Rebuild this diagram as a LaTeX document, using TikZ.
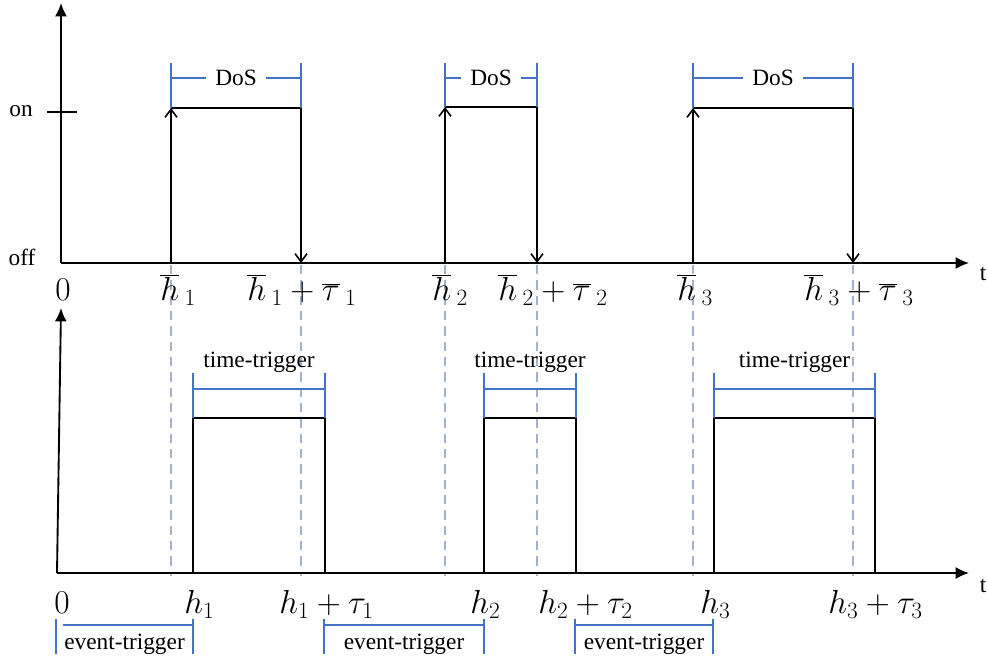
\RequirePackage{fix-cm}
\documentclass[tikz,border=0pt]{standalone}
\usepackage{fontspec}
\setmainfont{Liberation Serif}
\usetikzlibrary{arrows.meta}
\definecolor{bracketblue}{HTML}{4472C4}
\definecolor{dashgray}{HTML}{A3B3CC}
\newcommand{\hb}{\overline{h}}
\newcommand{\tb}{\overline{\tau}}
\begin{document}
\begin{tikzpicture}[x=0.75pt,y=-0.75pt,
  axis/.style={line width=1.4pt,-{Latex[length=10pt,width=9pt]}},
  sig/.style={line width=1.4pt},
  sigarrow/.style={line width=1.4pt,-{Straight Barb[length=6pt,width=9pt,line width=1.2pt]}},
  brk/.style={bracketblue,line width=1.4pt},
  guide/.style={dashgray,line width=1.2pt,dash pattern=on 7pt off 4.5pt},
  txt/.style={font=\fontsize{17.5}{20}\selectfont,inner sep=0pt},
  gaptxt/.style={txt,inner xsep=7pt},
  mlabel/.style={font=\fontsize{25}{29}\selectfont,inner sep=0pt,anchor=base west},
]
\useasboundingbox (0,0) rectangle (987,664);

% dashed guide lines
\foreach \x [count=\i] in {171,301,445,537,693,853}{
  \coordinate (g\i t) at (\x,265);
  \coordinate (g\i b) at (\x,576);
  \draw[guide] (g\i t) -- (g\i b);
}

% top axes
\coordinate (O1) at (61,263);
\coordinate (Y1) at (61,3);
\coordinate (X1) at (969,263);
\draw[axis] (O1) -- (Y1);
\draw[axis] (O1) -- (X1);
\coordinate (tickL) at (47,112);
\coordinate (tickR) at (77,112);
\draw[sig] (tickL) -- (tickR);
\node[txt] (on) at (21,111) {on};
\node[txt] (off) at (22,257) {off};
\node[txt] (t1) at (983,274) {t};

% bottom axes
\coordinate (O2) at (57,573);
\coordinate (Y2) at (61,308);
\coordinate (X2) at (969,573);
\draw[axis] (O2) -- (Y2);
\draw[axis] (O2) -- (X2);
\node[txt] (t2) at (983,586) {t};

% DoS pulses
\foreach \a/\b/\t [count=\i] in {171/301/108, 445/537/107, 693/853/108}{
  \coordinate (p\i a) at (\a,263);
  \coordinate (p\i b) at (\a,\t);
  \coordinate (p\i c) at (\b,\t);
  \coordinate (p\i d) at (\b,263);
  \draw[sigarrow] (p\i a) -- (p\i b);
  \draw[sig] (p\i b) -- (p\i c);
  \draw[sigarrow] (p\i c) -- (p\i d);
  \coordinate (d\i l) at (\a,63);
  \coordinate (d\i r) at (\b,63);
  \coordinate (d\i lm) at (\a,78);
  \coordinate (d\i rm) at (\b,78);
  \draw[brk] (d\i l) -- (p\i b);
  \draw[brk] (d\i r) -- (p\i c);
  \node[gaptxt] (dos\i) at ({(\a+\b)/2},78) {DoS};
  \draw[brk] (d\i lm) -- (dos\i.west);
  \draw[brk] (dos\i.east) -- (d\i rm);
}

% transmission pulses
\foreach \a/\b [count=\i] in {193/325, 484/576, 714/875}{
  \coordinate (q\i a) at (\a,573);
  \coordinate (q\i b) at (\a,418);
  \coordinate (q\i c) at (\b,418);
  \coordinate (q\i d) at (\b,573);
  \draw[sig] (q\i a) -- (q\i b) -- (q\i c) -- (q\i d);
  \coordinate (tt\i l) at (\a,373);
  \coordinate (tt\i r) at (\b,373);
  \coordinate (tt\i lm) at (\a,389);
  \coordinate (tt\i rm) at (\b,389);
  \draw[brk] (tt\i l) -- (q\i b);
  \draw[brk] (tt\i r) -- (q\i c);
  \draw[brk] (tt\i lm) -- (tt\i rm);
  \node[txt] (tt\i) at ({(\a+\b)/2},362) {time-trigger};
}

% event-trigger brackets
\foreach \a/\b/\s [count=\i] in {56/193/63, 324/484/324, 575/713/575}{
  \coordinate (e\i lt) at (\a,619);
  \coordinate (e\i lb) at (\a,654);
  \coordinate (e\i rt) at (\b,619);
  \coordinate (e\i rb) at (\b,654);
  \coordinate (e\i lm) at (\s,625);
  \coordinate (e\i rm) at (\b,625);
  \draw[brk] (e\i lt) -- (e\i lb);
  \draw[brk] (e\i rt) -- (e\i rb);
  \draw[brk] (e\i lm) -- (e\i rm);
  \node[txt] (et\i) at ({(\a+\b)/2},644) {event-trigger};
}

% top labels
\node[mlabel] (z1) at (55,300) {$0$};
\node[mlabel] (hb1) at (160,300) {$\hb\,{}_{1}$};
\node[mlabel] (hbt1) at (247,300) {$\hb\,{}_{1}+\tb\,{}_{1}$};
\node[mlabel] (hb2) at (432,300) {$\hb\,{}_{2}$};
\node[mlabel] (hbt2) at (498,300) {$\hb\,{}_{2}+\tb\,{}_{2}$};
\node[mlabel] (hb3) at (677,300) {$\hb\,{}_{3}$};
\node[mlabel] (hbt3) at (804,300) {$\hb\,{}_{3}+\tb\,{}_{3}$};

% bottom labels
\node[mlabel] (z2) at (54,613) {$0$};
\node[mlabel] (h1) at (184,613) {$h_1$};
\node[mlabel] (ht1) at (279,613) {$h_1+\tau_1$};
\node[mlabel] (h2) at (470,613) {$h_2$};
\node[mlabel] (ht2) at (538,613) {$h_2+\tau_2$};
\node[mlabel] (h3) at (700,613) {$h_3$};
\node[mlabel] (ht3) at (828,613) {$h_3+\tau_3$};
\end{tikzpicture}
\end{document}
